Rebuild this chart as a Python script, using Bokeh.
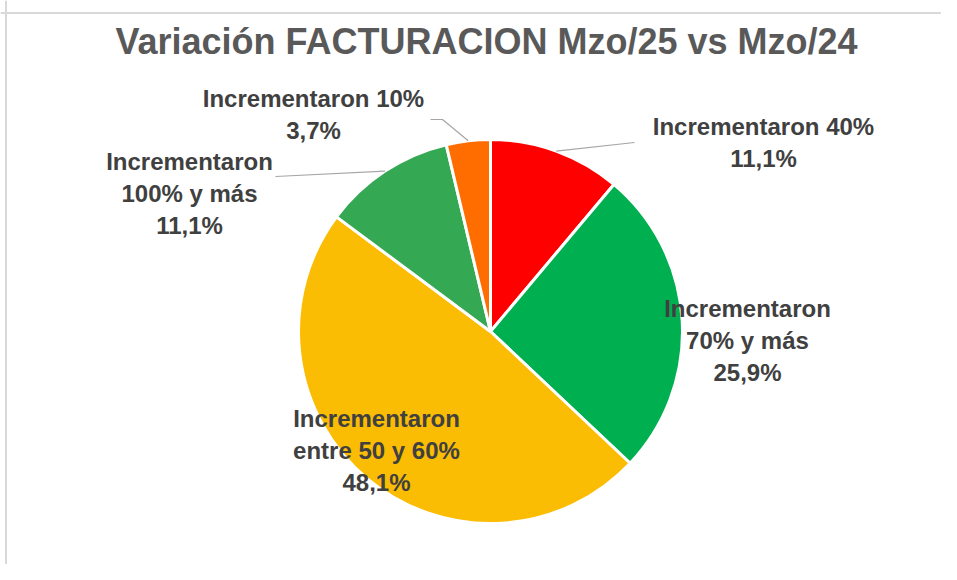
import math
from bokeh.plotting import figure
from bokeh.models import ColumnDataSource, Range1d, Span
from bokeh.core.properties import value
from bokeh.embed import file_html
from bokeh.resources import INLINE

# ---- data ----
categories = ["Incrementaron 40%", "Incrementaron\n70% y más", "Incrementaron\nentre 50 y 60%",
              "Incrementaron\n100% y más", "Incrementaron 10%"]
percentages = [11.1, 25.9, 48.1, 11.1, 3.7]
colors = ["#FF0000", "#00B050", "#FBBC04", "#34A853", "#FF6D01"]
title_text = "Variación FACTURACION  Mzo/25 vs Mzo/24"

# ---- layout (screen pixels of the page) ----
W, H = 941, 564
OFF = 0
def sx(x): return x - OFF
def sy(y): return H + OFF - y

cx, cy, R = sx(490), sy(331), 192
label_pos = [(763, 142), (747, 340), (376, 450), (189, 193), (313, 114)]
leader_ends = {0: [(634, 142)], 3: [(275, 176)], 4: [(442, 119), (430, 119)]}

total = sum(percentages)
starts, ends, mids = [], [], []
acc = 0.0
for v in percentages:
    a0 = 90 - acc / total * 360
    acc += v
    a1 = 90 - acc / total * 360
    starts.append(math.radians(a0)); ends.append(math.radians(a1)); mids.append(math.radians((a0 + a1) / 2))

src = ColumnDataSource(dict(start=starts, end=ends, color=colors))

p = figure(width=W, height=H, x_range=Range1d(0, W), y_range=Range1d(0, H),
           output_backend="svg", toolbar_location=None, min_border=0,
           x_axis_location=None, y_axis_location=None, outline_line_color=None,
           background_fill_color="white", border_fill_color="white")
p.grid.visible = False

# chart-area border (left & top visible)
p.add_layout(Span(location=sx(5.5), dimension="height", line_color="#D9D9D9", line_width=2))
p.add_layout(Span(location=sy(12.5), dimension="width", line_color="#D9D9D9", line_width=2))

p.wedge(x=cx, y=cy, radius=R, start_angle="start", end_angle="end",
        direction="clock", fill_color="color", line_color="white", line_width=3, source=src)

# leader lines
for i, pts in leader_ends.items():
    m = mids[i]
    xs = [cx + R * math.cos(m)] + [sx(a) for a, b in pts]
    ys = [cy + R * math.sin(m)] + [sy(b) for a, b in pts]
    p.line(xs, ys, line_color="#A6A6A6", line_width=1.2)

labels = [c + "\n" + f"{v:.1f}".replace(".", ",") + "%" for c, v in zip(categories, percentages)]
lsrc = ColumnDataSource(dict(x=[sx(a) for a, b in label_pos], y=[sy(b) for a, b in label_pos], t=labels))
p.text(x="x", y="y", text="t", source=lsrc, text_align="center", text_baseline="middle",
       text_font=value("Liberation Sans"), text_font_style="bold", text_font_size="24px",
       text_color="#404040", text_line_height=1.2)

p.text(x=[sx(491)], y=[sy(41)], text=[title_text], text_align="center", text_baseline="middle",
       text_font=value("Liberation Sans"), text_font_style="bold", text_font_size="36px",
       text_color="#595959")

open("out.html", "w").write(file_html(p, INLINE))
